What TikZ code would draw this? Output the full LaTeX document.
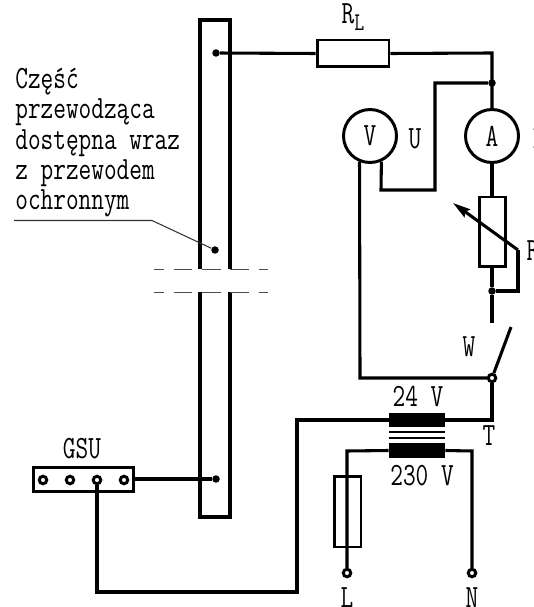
\documentclass[tikz,border=0pt]{standalone}
\usepackage{tikz}
\usepackage{graphicx}
\usetikzlibrary{arrows.meta}
\usetikzlibrary{positioning}
\newcommand{\tall}[1]{\scalebox{1}[1.32]{#1}}
\tikzset{
 wire/.style = {line width=1.75pt, line join=miter},
 thinwire/.style = {line width=0.6pt, black!80},
 box/.style = {draw, line width=1.7pt, rectangle, inner sep=0pt},
 meter/.style = {draw, line width=1.7pt, circle, minimum size=1.06cm, inner sep=0pt, font=\ttfamily\fontsize{14}{17.2}\selectfont},
 dot/.style = {fill, circle, minimum size=0.15cm, inner sep=0pt},
 socket/.style = {draw, fill=white, line width=1.7pt, circle, minimum size=0.15cm, inner sep=0pt},
 core/.style = {fill, rectangle, minimum width=1.12cm, inner sep=0pt},
 lbl/.style = {font=\ttfamily\fontsize{14}{17.2}\selectfont, inner sep=0pt}
}
\begin{document}
\begin{tikzpicture}[x=0.02cm, y=-0.02cm]
 \useasboundingbox (0,0) rectangle (533,607);

 % bar, broken in the middle
 \draw[wire] (200,269) -- (200,20) -- (230,20) -- (230,269);
 \draw[wire] (200,292) -- (200,517) -- (230,517) -- (230,292);
 \draw[line width=0.5pt, black!70, dash pattern=on 10.8pt off 5.4pt, dash phase=5.1pt] (154,269) -- (268,269);
 \draw[line width=0.5pt, black!70, dash pattern=on 10.8pt off 5.4pt, dash phase=5.1pt] (154,292) -- (268,292);
 \node[dot] (dottop) at (216,53) {};
 \node[dot] (dotmid) at (215,250) {};
 \node[dot] (dotgsu) at (216,479) {};

 % text on the left
 \node[lbl, align=left, anchor=north west] (opis) at (15,68) {\tall{Część}\\\tall{przewodząca}\\\tall{dostępna wraz}\\\tall{z przewodem}\\\tall{ochronnym}};
 \coordinate (underl) at (14,220.5);
 \coordinate (kink) at (152,220.5);
 \draw[thinwire] (underl) -- (kink) -- (dotmid);

 % load and meters
 \node[box, minimum width=1.44cm, minimum height=0.54cm] (RL) at (353,53.5) {};
 \node[lbl, above=0.16cm of RL] (RLtxt) {\tall{R\raisebox{-0.45ex}{\fontsize{11}{11}\selectfont L}}};
 \node[meter] (meterA) at (492,136) {\tall{A}};
 \node[meter] (meterV) at (370,136) {\tall{V}};
 \node[lbl] (Utxt) at (415,139) {\tall{U}};
 \node[lbl] (Itxt) at (538,139) {\tall{I}};
 \coordinate (jA) at (492,53);
 \node[dot] (dotA) at (492,83) {};
 \draw[wire] (dottop) -- (RL.west);
 \draw[wire] (RL.east) -- (jA) -- (meterA.north);
 \coordinate (v1) at (435,83);
 \coordinate (v2) at (435,190);
 \coordinate (v3) at (381,190);
 \draw[wire] (dotA) -- (v1) -- (v2) -- (v3) -- (meterV.294);

 % rheostat
 \node[box, minimum width=0.52cm, minimum height=1.4cm] (Rp) at (492,232) {};
 \node[lbl] (Rtxt) at (533,251) {\tall{R}};
 \node[dot] (dotR) at (492,291) {};
 \coordinate (a1) at (518,250);
 \coordinate (a2) at (453,203);
 \coordinate (a3) at (518,291);
 \coordinate (swtop) at (492,323);
 \draw[wire] (meterA.south) -- (Rp.north);
 \draw[wire] (Rp.south) -- (dotR) -- (swtop);
 \draw[wire] (dotR) -- (a3) -- (a1);
 \draw[wire, -{Stealth[length=10pt,width=5.5pt,inset=1.5pt]}] (a1) -- (a2);

 % switch
 \node[lbl] (Wtxt) at (469,347) {\tall{W}};
 \coordinate (blade) at (511,327);
 \coordinate (v4) at (360,378);
 \node[socket] (swlow) at (492,378) {};
 \draw[wire] (meterV.248) -- (v4) -- (swlow);
 \draw[wire] (swlow) -- (blade);

 % transformer
 \node[core, minimum height=0.29cm] (coreup) at (417,420) {};
 \node[core, minimum height=0.29cm] (coredn) at (417,450.5) {};
 \draw[line width=0.7pt] (coreup.west |- 0,432) -- (coreup.east |- 0,432);
 \draw[line width=0.7pt] (coreup.west |- 0,438) -- (coreup.east |- 0,438);
 \node[lbl] (V24) at (418,396) {\tall{24 V}};
 \node[lbl] (V230) at (422,476) {\tall{230 V}};
 \node[lbl] (Ttxt) at (489,436) {\tall{T}};
 \coordinate (t1) at (492,420);
 \draw[wire] (swlow) -- (t1) -- (coreup.east);

 % GSU
 \node[box, minimum width=2cm, minimum height=0.48cm] (gsu) at (83.5,479.5) {};
 \node[lbl] (GSUtxt) at (82,449) {\tall{GSU}};
 \node[socket] (s1) at (43,480) {};
 \node[socket] (s2) at (70,480) {};
 \node[socket] (s3) at (97,480) {};
 \node[socket] (s4) at (124,480) {};
 \draw[wire] (gsu.east |- dotgsu) -- (dotgsu);
 \coordinate (p1) at (97,592);
 \coordinate (p2) at (297,592);
 \coordinate (p3) at (297,420);
 \draw[wire] (s3) -- (p1) -- (p2) -- (p3) -- (coreup.west);

 % mains side
 \node[box, minimum width=0.54cm, minimum height=1.42cm] (fuse) at (347.5,511.5) {};
 \node[socket] (termL) at (347,573) {};
 \node[socket] (termN) at (472,573) {};
 \node[lbl] (Ltxt) at (347,598) {\tall{L}};
 \node[lbl] (Ntxt) at (472,598) {\tall{N}};
 \coordinate (m1) at (347,451);
 \coordinate (m2) at (472,451);
 \draw[wire] (coredn.west) -- (m1) -- (termL);
 \draw[wire] (coredn.east) -- (m2) -- (termN);
\end{tikzpicture}
\end{document}
